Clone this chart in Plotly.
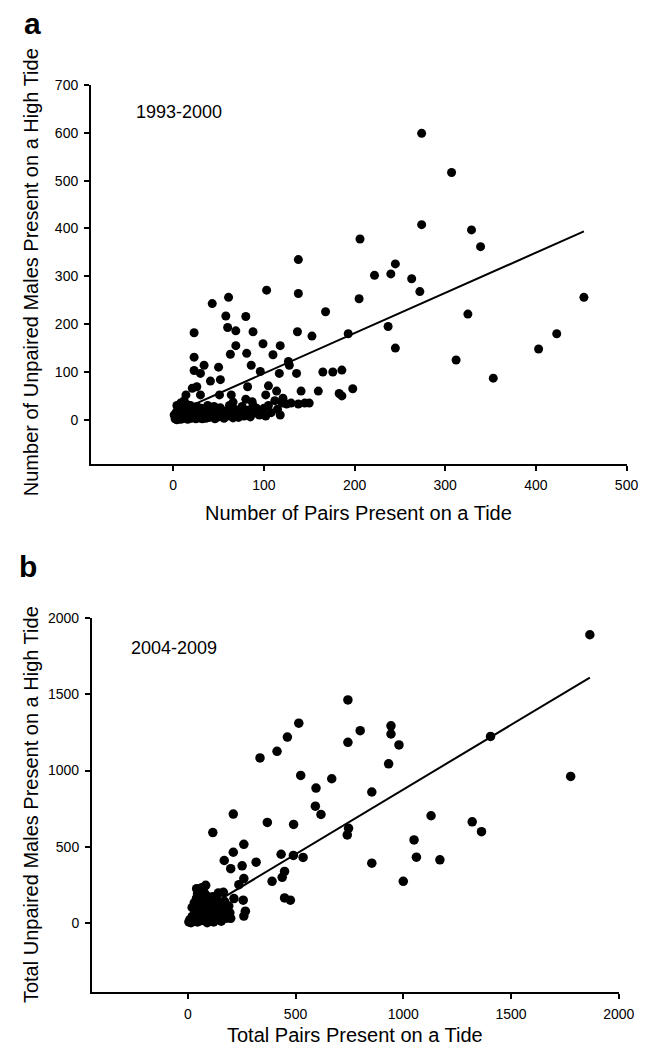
import plotly.graph_objects as go

W, H = 664, 1050

# ---------- Panel a data (1993-2000) ----------
a_pairs = [274, 307, 274, 329, 339, 206, 138, 245, 222, 240, 263, 272, 138, 205, 168, 325,
           103, 61, 43, 58, 80, 60, 69, 88, 23, 137, 99, 118, 69, 63, 81, 110, 23, 127, 86, 50,
           34, 23, 30, 96, 117, 136, 41, 52, 128, 105, 114, 141, 82, 125, 138, 100, 80, 87, 66,
           51, 64, 21, 26, 14, 30, 102, 121,
           145, 153, 165, 176, 186, 183, 186, 193, 198, 237, 245, 312, 353, 403, 423, 453, 150, 160, 130,
           2, 3, 4, 5, 6, 7, 8, 9, 10, 10, 11, 12, 13, 14, 15, 16, 17, 18, 19, 20, 21, 22, 23, 24, 25,
           26, 27, 28, 29, 30, 31, 32, 33, 34, 35, 36, 37, 38, 39, 40, 42, 44, 45, 46, 48, 50, 52, 54,
           56, 58, 60, 62, 64, 66, 68, 70, 72, 74, 76, 78, 80, 82, 85, 88, 90, 92, 95, 98, 102, 105,
           108, 112, 115, 118, 120, 3, 5, 8, 12, 15, 6, 1, 4]
a_males = [599, 517, 408, 397, 362, 378, 335, 326, 302, 305, 295, 268, 264, 253, 226, 221,
           271, 256, 243, 217, 216, 193, 186, 184, 182, 184, 159, 155, 155, 137, 139, 136, 131, 122, 114, 110,
           114, 103, 97, 101, 97, 97, 81, 84, 114, 71, 60, 60, 69, 33, 33, 24, 43, 38, 37,
           52, 52, 66, 69, 52, 52, 52, 45,
           35, 175, 100, 100, 104, 55, 50, 180, 65, 195, 150, 125, 87, 148, 180, 256, 35, 60, 35,
           2, 5, 0, 8, 3, 12, 1, 6, 15, 2, 20, 8, 4, 25, 12, 1, 6, 18, 30, 3, 10, 22, 5, 14, 2,
           28, 8, 16, 4, 10, 24, 2, 12, 6, 18, 3, 9, 30, 14, 5, 20, 8, 28, 2, 15, 6, 25, 10,
           3, 18, 8, 30, 14, 4, 22, 10, 5, 16, 28, 8, 12, 20, 6, 30, 14, 24, 10, 18, 8, 30,
           15, 40, 22, 10, 35, 15, 25, 35, 40, 32, 18, 10, 30]
a_fit_x = [0, 453]
a_fit_y = [13, 394]

# ---------- Panel b data (2004-2009) ----------
b_pairs = [335, 414, 462, 515, 743, 743, 524, 595, 668, 800,
           1866, 1405, 1777, 943, 943, 980, 932, 854, 1129, 1320, 1363, 1050, 1061, 1170, 1000, 854,
           211, 116, 369, 491, 592, 618, 746, 740, 260, 211, 169, 199, 252, 317, 433, 490, 535, 449,
           438, 391, 260, 237, 449, 476, 83, 41, 142, 214, 257, 267, 260, 177, 199,
           5, 10, 15, 20, 25, 30, 35, 40, 45, 50, 55, 60, 65, 70, 75, 80, 85, 90, 95, 100, 105, 110,
           115, 120, 125, 130, 135, 140, 145, 150, 20, 30, 40, 45, 55, 65, 60, 70, 85, 110, 160, 170,
           180, 190, 155, 165, 195, 90, 100, 120]
b_males = [1083, 1126, 1220, 1311, 1464, 1185, 968, 885, 946, 1262,
           1892, 1224, 961, 1294, 1240, 1168, 1044, 859, 703, 663, 598, 544, 431, 413, 272, 391,
           714, 592, 659, 646, 766, 711, 620, 577, 515, 463, 409, 355, 374, 398, 450, 442, 429, 337,
           298, 272, 290, 250, 163, 148, 246, 224, 196, 159, 148, 76, 44, 91, 29,
           5, 20, 0, 40, 10, 60, 25, 90, 5, 120, 40, 150, 15, 70, 200, 30, 100, 50, 10, 130, 80, 20,
           170, 60, 110, 30, 150, 90, 50, 120, 100, 130, 160, 190, 210, 230, 110, 140, 180, 100, 60, 140,
           30, 110, 10, 200, 65, 0, 15, 5]
b_fit_x = [0, 1866]
b_fit_y = [25, 1611]

a_xticks = [0, 100, 200, 300, 400, 500]
a_yticks = [0, 100, 200, 300, 400, 500, 600, 700]
b_xticks = [0, 500, 1000, 1500, 2000]
b_yticks = [0, 500, 1000, 1500, 2000]


def px_x(p):
    return p / W


def px_y(p):
    return 1 - p / H


fig = go.Figure()

fig.add_trace(go.Scatter(x=a_pairs, y=a_males, mode="markers",
                         marker=dict(color="black", size=9, line=dict(width=0)),
                         xaxis="x", yaxis="y", showlegend=False))
fig.add_trace(go.Scatter(x=a_fit_x, y=a_fit_y, mode="lines",
                         line=dict(color="black", width=2),
                         xaxis="x", yaxis="y", showlegend=False))
fig.add_trace(go.Scatter(x=b_pairs, y=b_males, mode="markers",
                         marker=dict(color="black", size=9.5, line=dict(width=0)),
                         xaxis="x2", yaxis="y2", showlegend=False))
fig.add_trace(go.Scatter(x=b_fit_x, y=b_fit_y, mode="lines",
                         line=dict(color="black", width=2),
                         xaxis="x2", yaxis="y2", showlegend=False))

tickfont = dict(family="Liberation Sans, Arial, sans-serif", size=14, color="black")
axis_common = dict(showgrid=False, zeroline=False, showline=True, linecolor="black",
                   linewidth=1.5, ticks="outside", ticklen=5, tickwidth=1.5,
                   tickcolor="black", tickfont=tickfont, ticklabelstandoff=3)

fig.update_layout(
    width=W, height=H,
    margin=dict(l=0, r=0, t=0, b=0),
    paper_bgcolor="white", plot_bgcolor="white",
    xaxis=dict(domain=[px_x(93), px_x(642)], range=[-91, 500], tickvals=a_xticks,
               anchor="y", **axis_common),
    yaxis=dict(domain=[px_y(459.3), px_y(77.6)], range=[-92, 700], tickvals=a_yticks,
               anchor="x", **axis_common),
    xaxis2=dict(domain=[px_x(94), px_x(634)], range=[-446, 2000], tickvals=b_xticks,
                anchor="y2", **axis_common),
    yaxis2=dict(domain=[px_y(991.7), px_y(615)], range=[-456, 2000], tickvals=b_yticks,
                anchor="x2", **axis_common),
)

title_font = dict(family="Liberation Sans, Arial, sans-serif", size=20, color="black")
label_font = dict(family="Liberation Sans, Arial, sans-serif", size=30, color="black")
year_font = dict(family="Liberation Sans, Arial, sans-serif", size=18, color="black")

annots = [
    dict(text="<b>a</b>", x=px_x(33), y=px_y(16), xanchor="center", yanchor="middle", font=label_font),
    dict(text="<b>b</b>", x=px_x(29), y=px_y(563), xanchor="center", yanchor="middle", font=label_font),
    dict(text="1993-2000", x=px_x(183), y=px_y(105), xanchor="center", yanchor="middle", font=year_font),
    dict(text="2004-2009", x=px_x(178), y=px_y(645), xanchor="center", yanchor="middle", font=year_font),
    dict(text="Number of Pairs Present on a Tide", x=px_x(367), y=px_y(509),
         xanchor="center", yanchor="middle", font=title_font),
    dict(text="Total Pairs Present on a Tide", x=px_x(364), y=px_y(1035),
         xanchor="center", yanchor="middle", font=title_font),
    dict(text="Number of Unpaired Males Present on a High Tide", x=px_x(32), y=px_y(266),
         xanchor="center", yanchor="middle", textangle=-90, font=title_font),
    dict(text="Total Unpaired Males Present on a High Tide", x=px_x(32), y=px_y(803),
         xanchor="center", yanchor="middle", textangle=-90, font=title_font),
]
for a in annots:
    a.update(xref="paper", yref="paper", showarrow=False)
fig.update_layout(annotations=annots)

fig.write_html("out.html")
